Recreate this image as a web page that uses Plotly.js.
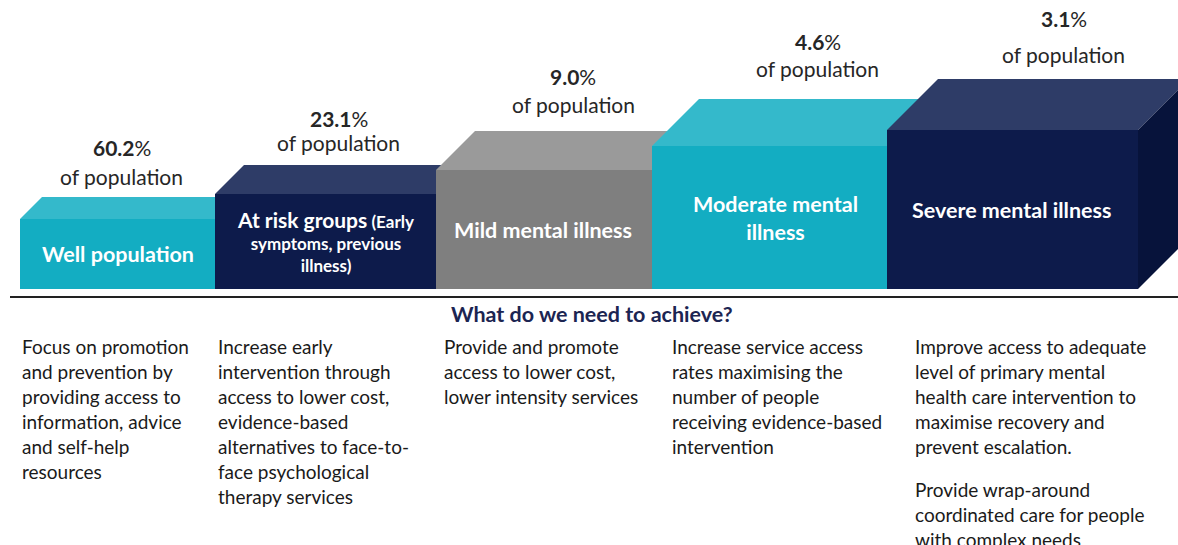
<!DOCTYPE html>
<html>
<head>
<meta charset="utf-8">
<script src="https://cdn.plot.ly/plotly-3.0.1.min.js"></script>
<style>html,body{margin:0;padding:0;background:#fff;}#chart{width:1178px;height:545px;}</style>
</head>
<body>
<div id="chart"></div>
<script>
// ---------- DATA ----------
const categories = ["Well population", "At risk groups", "Mild mental illness", "Moderate mental illness", "Severe mental illness"];
const headerText = [
  "<b>Well population</b>",
  "<b><span style='font-size:21px'>At risk groups</span> (Early</b><br><b>symptoms, previous</b><br><b>illness)</b>",
  "<b>Mild mental illness</b>",
  "<b>Moderate mental</b><br><b>illness</b>",
  "<b>Severe mental illness</b>"
];
const percentOfPopulation = [60.2, 23.1, 9.0, 4.6, 3.1];
const stepHeights = [70, 95, 119, 143, 159];   // visual step heights of the blocks
const needsTitle = "What do we need to achieve?";
const needs1 = ["Focus on promotion", "and prevention by", "providing access to", "information, advice", "and self-help", "resources"];
const needs2 = ["Increase early", "intervention through", "access to lower cost,", "evidence-based", "alternatives to face-to-", "face psychological", "therapy services"];
const needs3 = ["Provide and promote", "access to lower cost,", "lower intensity services"];
const needs4 = ["Increase service access", "rates maximising the", "number of people", "receiving evidence-based", "intervention"];
const needs5 = ["Improve access to adequate", "level of primary mental", "health care intervention to", "maximise recovery and", "prevent escalation.", "", "Provide wrap-around", "coordinated care for people", "with complex needs"];
const needs = [needs1, needs2, needs3, needs4, needs5];

// ---------- LAYOUT / STYLE ----------
const W = 1178, H = 545, BASE_PX = 289;
const blockWidths = [195, 221, 216, 235, 251];
const leftStart = 20;
const depth = [22, 29, 39, 47, 51];
const frontColors = ["#13adc2", "#0d1b4b", "#7f7f7f", "#13adc2", "#0d1b4b"];
const topColors   = ["#34b9cb", "#2e3c67", "#9a9a9a", "#34b9cb", "#2e3c67"];
const sideColor = "#07133b";
const headerDx = [0, 0, -1, 6, -1];
const headerSize = [21.5, 17, 21.5, 21.5, 21.5];
const labelDx = [4, 13, 29, 48, 51];
const labelGap = [21, 23, 27, 31, 25];   // gap above the back edge for "of population"
const pctGap = [29, 24, 28, 27, 36];
const descDx = [0, 1, 6, 18, 26];
const descTopPx = 346, lineStep = 25, paraStep = 18;
const py = p => BASE_PX - p;  // pixel row -> y value
const FONT = "Lato, 'Open Sans', sans-serif";

// geometry from data
const lefts = [], centers = [];
let acc = leftStart;
blockWidths.forEach(w => { lefts.push(acc); centers.push(acc + w / 2); acc += w; });
const rights = lefts.map((l, i) => l + blockWidths[i]);

const traces = [];
// front faces
traces.push({
  type: "bar", x: centers, y: stepHeights, width: blockWidths, base: 0,
  marker: {color: frontColors, line: {width: 0}},
  hoverinfo: "text", hovertext: categories.map((c, i) => c + ": " + percentOfPopulation[i].toFixed(1) + "%"),
  showlegend: false
});
// top faces (clipped where the next block's front face would be)
stepHeights.forEach((h, i) => {
  const x0 = lefts[i], x1 = rights[i], d = depth[i];
  let xs, ys;
  if (i < stepHeights.length - 1) {
    const Hn = stepHeights[i + 1];
    if (h + d <= Hn) {
      xs = [x0, x1, x1, x0 + d, x0];
      ys = [h, h, h + d, h + d, h];
    } else {
      const xc = x1 + (Hn - h);
      xs = [x0, x1, x1, xc, x1 + d, x0 + d, x0];
      ys = [h, h, Hn, Hn, h + d, h + d, h];
    }
  } else {
    xs = [x0, x1, x1 + d, x0 + d, x0];
    ys = [h, h, h + d, h + d, h];
  }
  traces.push({type: "scatter", mode: "lines", x: xs, y: ys, fill: "toself",
    fillcolor: topColors[i], line: {width: 0, color: topColors[i]}, hoverinfo: "skip", showlegend: false});
});
// side face of the last block
{
  const i = stepHeights.length - 1, x1 = rights[i], h = stepHeights[i], d = depth[i];
  traces.push({type: "scatter", mode: "lines", x: [x1, x1, x1 + d, x1 + d, x1], y: [0, h, h + d, d, 0],
    fill: "toself", fillcolor: sideColor, line: {width: 0, color: sideColor}, hoverinfo: "skip", showlegend: false});
}

const annotations = [];
// headers in the front faces
headerText.forEach((t, i) => {
  annotations.push({x: centers[i] + headerDx[i], y: stepHeights[i] / 2, xref: "x", yref: "y", text: t,
    showarrow: false, xanchor: "center", yanchor: "middle", align: "center",
    font: {family: FONT, size: headerSize[i], color: "#ffffff"}});
});
// percentage labels
percentOfPopulation.forEach((p, i) => {
  const yPop = stepHeights[i] + depth[i] + labelGap[i];
  annotations.push({x: centers[i] + labelDx[i], y: yPop, xref: "x", yref: "y", text: "of population",
    showarrow: false, xanchor: "center", yanchor: "middle", font: {family: FONT, size: 21, color: "#262626"}});
  annotations.push({x: centers[i] + labelDx[i], y: yPop + pctGap[i], xref: "x", yref: "y",
    text: "<b>" + p.toFixed(1) + "</b>%", showarrow: false, xanchor: "center", yanchor: "middle",
    font: {family: FONT, size: 21, color: "#262626"}});
});
// section title
annotations.push({x: 592, y: py(314), xref: "x", yref: "y", text: "<b>" + needsTitle + "</b>", showarrow: false,
  xanchor: "center", yanchor: "middle", font: {family: FONT, size: 21.5, color: "#1c2552"}});
// description columns
needs.forEach((lines, i) => {
  let yp = descTopPx;
  lines.forEach((ln, k) => {
    if (ln === "") { yp += paraStep; return; }
    annotations.push({x: lefts[i] + descDx[i], y: py(yp), xref: "x", yref: "y", text: ln, showarrow: false,
      xanchor: "left", yanchor: "middle", font: {family: FONT, size: 19, color: "#1a1a1a"}});
    yp += lineStep;
  });
});

const layout = {
  width: W, height: H, margin: {l: 0, r: 0, t: 0, b: 0},
  paper_bgcolor: "#ffffff", plot_bgcolor: "#ffffff",
  xaxis: {range: [0, W], visible: false, fixedrange: true},
  yaxis: {range: [BASE_PX - H, BASE_PX], visible: false, fixedrange: true},
  bargap: 0, showlegend: false,
  shapes: [{type: "line", xref: "x", yref: "y", x0: 10, x1: W, y0: py(297), y1: py(297),
    line: {color: "#222222", width: 2}}],
  annotations: annotations
};
Plotly.newPlot("chart", traces, layout, {displayModeBar: false, staticPlot: true});
</script>
</body>
</html>
